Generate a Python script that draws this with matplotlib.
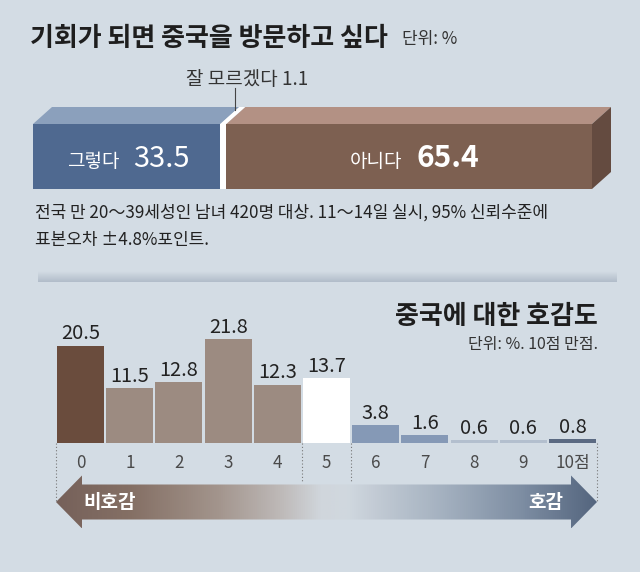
import matplotlib
matplotlib.use('Agg')
import matplotlib.pyplot as plt
import numpy as np
from matplotlib.patches import Polygon, Rectangle
from matplotlib.colors import LinearSegmentedColormap

plt.rcParams['font.family'] = ['Noto Sans CJK KR', 'DejaVu Sans']

W, H = 640, 572
BG = '#d3dce4'

# 기회가 되면 중국을 방문하고 싶다 (%)
visit_labels = ['그렇다', '잘 모르겠다', '아니다']
visit_values = [33.5, 1.1, 65.4]

# 중국에 대한 호감도 (0~10점, %)
score_ticks = ['0', '1', '2', '3', '4', '5', '6', '7', '8', '9', '10점']
score_values = [20.5, 11.5, 12.8, 21.8, 12.3, 13.7, 3.8, 1.6, 0.6, 0.6, 0.8]
score_colors = ['#6a4c3d', '#9c8b81', '#9c8b81', '#9c8b81', '#9c8b81', '#ffffff',
                '#8599b6', '#8599b6', '#b3bfce', '#b3bfce', '#5b6a82']


def pt(v):
    # pixel size -> points at dpi 100
    return v * 0.72


def fig_axes(x0, y0, x1, y1):
    return fig.add_axes([x0 / W, 1 - y1 / H, (x1 - x0) / W, (y1 - y0) / H])


fig = plt.figure(figsize=(W / 100, H / 100), dpi=100, facecolor=BG)
bg = fig.add_axes([0, 0, 1, 1])
bg.set_xlim(0, W)
bg.set_ylim(H, 0)
bg.axis('off')

# titles and notes
bg.text(30, 46, '기회가 되면 중국을 방문하고 싶다', fontsize=pt(26), fontweight='bold',
        color='#1e1e1e', va='baseline')
bg.text(402, 44, '단위: %', fontsize=pt(17), color='#333333', va='baseline')
bg.text(247, 85, '잘 모르겠다 1.1', fontsize=pt(19), color='#333333', ha='center', va='baseline')
bg.text(35, 218, '전국 만 20～39세성인 남녀 420명 대상. 11～14일 실시, 95% 신뢰수준에',
        fontsize=pt(17), color='#222222', va='baseline')
bg.text(35, 245, '표본오차 ±4.8%포인트.', fontsize=pt(17), color='#222222', va='baseline')

# separator band
band = np.linspace(0, 1, 20).reshape(-1, 1)
sep_cmap = LinearSegmentedColormap.from_list('sep', [BG, '#b2bdca'])
bg.imshow(band, cmap=sep_cmap, extent=(38, 617, 282, 271), aspect='auto', zorder=1)

bg.text(598, 324, '중국에 대한 호감도', fontsize=pt(26), fontweight='bold',
        color='#1e1e1e', ha='right', va='baseline')
bg.text(598, 349, '단위: %. 10점 만점.', fontsize=pt(16), color='#333333',
        ha='right', va='baseline')

# ---- stacked 3D bar ----
top = fig_axes(33, 124, 592, 189)
top.set_xlim(0, 100)
top.set_ylim(0, 1)
top.axis('off')
dx = 19 / 559 * 100
dy = 17 / 65
front = ['#4f6990', '#ffffff', '#7d6051']
upper = ['#8ba0bc', '#ffffff', '#b39184']
left = 0
centers = []
for v, fc, tc in zip(visit_values, front, upper):
    right = left + v
    top.add_patch(Rectangle((left, 0), v, 1, fc=fc, ec='none'))
    top.add_patch(Polygon([(left, 1), (left + dx, 1 + dy), (right + dx, 1 + dy), (right, 1)],
                          fc=tc, ec='none', clip_on=False))
    centers.append(left + v / 2)
    left = right
top.add_patch(Polygon([(left, 0), (left + dx, dy), (left + dx, 1 + dy), (left, 1)],
                      fc='#644b40', ec='none', clip_on=False))

# leader line for 잘 모르겠다
gx = visit_values[0] + visit_values[1] / 2 + dx * 0.6
top.plot([gx, gx], [1 + dy * 0.8, 1 + dy + 0.3], color='#444444', lw=0.8, clip_on=False)

yb = (189 - 167) / 65
top.annotate(visit_labels[0], (centers[0], yb), xytext=(-5, 0), textcoords='offset points',
             ha='right', va='baseline', color='white', fontsize=pt(19))
top.annotate(f'{visit_values[0]:.1f}', (centers[0], yb), xytext=(5, 0), textcoords='offset points',
             ha='left', va='baseline', color='white', fontsize=pt(29))
top.annotate(visit_labels[2], (centers[2], yb), xytext=(-5, 0), textcoords='offset points',
             ha='right', va='baseline', color='white', fontsize=pt(19))
top.annotate(f'{visit_values[2]:.1f}', (centers[2], yb), xytext=(5, 0), textcoords='offset points',
             ha='left', va='baseline', color='white', fontsize=pt(30), fontweight='bold')

# ---- score bars ----
scale = 4.75  # px per %
bars = fig_axes(56, 443 - 25 * scale, 597, 443)
x = np.arange(len(score_values))
bars.bar(x, score_values, width=0.955, color=score_colors, zorder=2)
bars.set_xlim(-0.5, 10.5)
bars.set_ylim(0, 25)
bars.axis('off')
for xi, v, lab in zip(x, score_values, score_ticks):
    bars.annotate(f'{v:.1f}', (xi, v), xytext=(0, 4.5), textcoords='offset points',
                  ha='center', va='baseline', fontsize=pt(20), color='#222222')
    bars.annotate(lab, (xi, 0), xytext=(0, -pt(25)), textcoords='offset points',
                  ha='center', va='baseline', fontsize=pt(17), color='#4a4a4a')
for xb, depth in [(-0.5, 59), (4.5, 40), (5.5, 40), (10.5, 59)]:
    bars.plot([xb, xb], [0, -depth / scale], color='#777777', lw=0.8, ls=(0, (1, 2)),
              clip_on=False)

# ---- gradient arrow ----
ax_l, ax_r, cy = 56, 597, 502
hl, sh, hh = 26, 17.5, 26.5
arrow = Polygon([(ax_l, cy), (ax_l + hl, cy - hh), (ax_l + hl, cy - sh), (ax_r - hl, cy - sh),
                 (ax_r - hl, cy - hh), (ax_r, cy), (ax_r - hl, cy + hh), (ax_r - hl, cy + sh),
                 (ax_l + hl, cy + sh), (ax_l + hl, cy + hh)], closed=True, fc='none', ec='none')
bg.add_patch(arrow)
arr_cmap = LinearSegmentedColormap.from_list('arr', [
    (0.0, '#76615a'), (0.14, '#857065'), (0.3, '#a3958d'), (0.42, '#bfbbba'),
    (0.49, '#d0d6dc'), (0.54, '#d0d8df'), (0.6, '#c0c9d3'), (0.72, '#a3b0bf'),
    (0.86, '#7e8ea3'), (1.0, '#54657e')])
grad = np.linspace(0, 1, 512).reshape(1, -1)
im = bg.imshow(grad, cmap=arr_cmap, extent=(ax_l, ax_r, cy + hh, cy - hh), aspect='auto', zorder=2)
im.set_clip_path(arrow)
bg.text(83, cy, '비호감', color='white', fontsize=pt(19), fontweight='bold',
        ha='left', va='center', zorder=3)
bg.text(563, cy, '호감', color='white', fontsize=pt(19), fontweight='bold',
        ha='right', va='center', zorder=3)

bg.set_xlim(0, W)
bg.set_ylim(H, 0)
fig.savefig('out.png', dpi=100, facecolor=BG)
